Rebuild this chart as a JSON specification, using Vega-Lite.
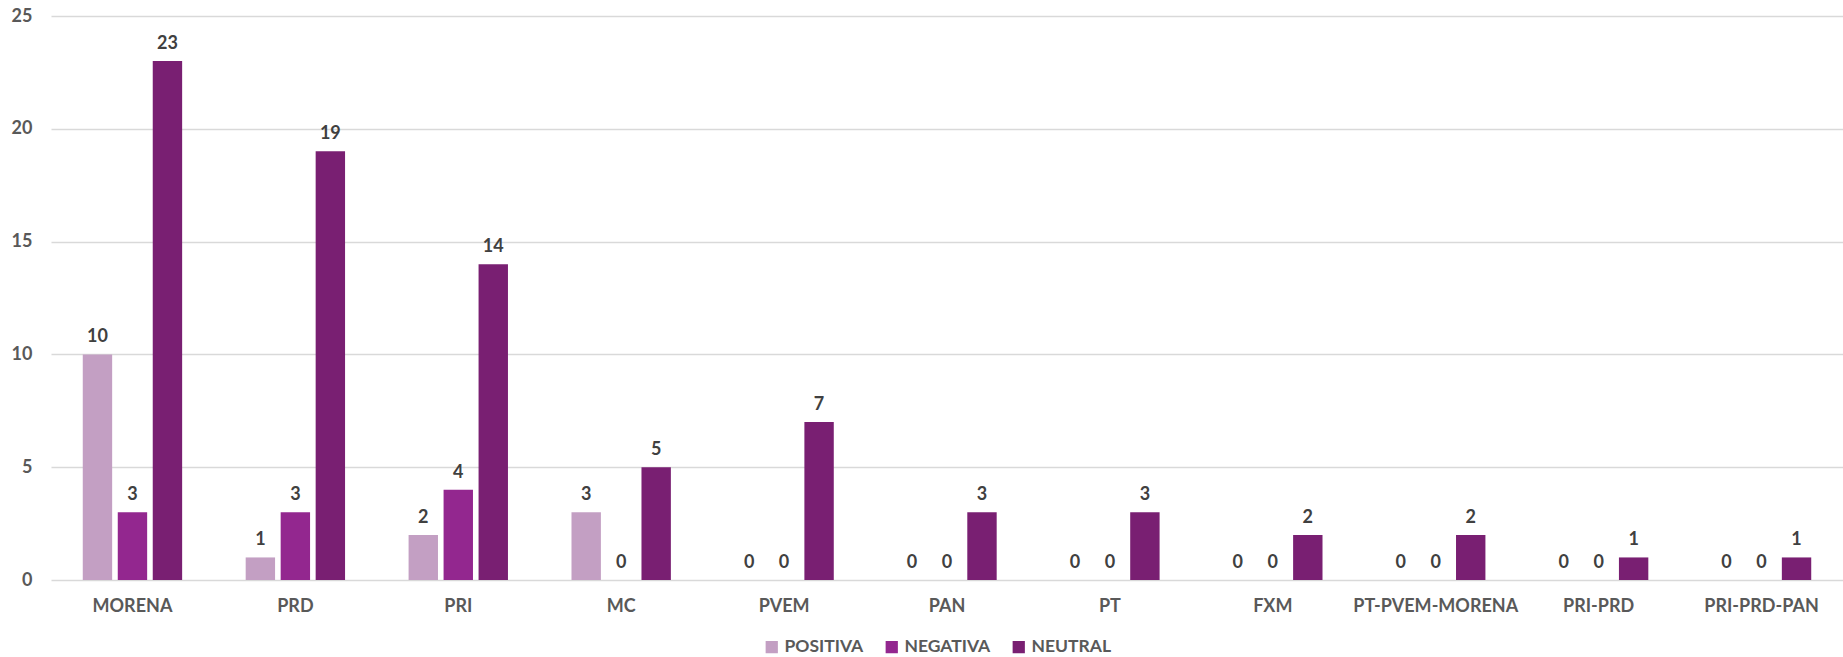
{
  "$schema": "https://vega.github.io/schema/vega-lite/v6.json",
  "width": 1792,
  "height": 564,
  "autosize": "none",
  "padding": {"left": 51, "top": 16, "right": 0, "bottom": 77},
  "background": "white",
  "config": {
    "view": {"stroke": null},
    "font": "Lato"
  },
  "data": {
    "values": [
      {"partido": "MORENA", "tipo": "POSITIVA", "valor": 10},
      {"partido": "MORENA", "tipo": "NEGATIVA", "valor": 3},
      {"partido": "MORENA", "tipo": "NEUTRAL", "valor": 23},
      {"partido": "PRD", "tipo": "POSITIVA", "valor": 1},
      {"partido": "PRD", "tipo": "NEGATIVA", "valor": 3},
      {"partido": "PRD", "tipo": "NEUTRAL", "valor": 19},
      {"partido": "PRI", "tipo": "POSITIVA", "valor": 2},
      {"partido": "PRI", "tipo": "NEGATIVA", "valor": 4},
      {"partido": "PRI", "tipo": "NEUTRAL", "valor": 14},
      {"partido": "MC", "tipo": "POSITIVA", "valor": 3},
      {"partido": "MC", "tipo": "NEGATIVA", "valor": 0},
      {"partido": "MC", "tipo": "NEUTRAL", "valor": 5},
      {"partido": "PVEM", "tipo": "POSITIVA", "valor": 0},
      {"partido": "PVEM", "tipo": "NEGATIVA", "valor": 0},
      {"partido": "PVEM", "tipo": "NEUTRAL", "valor": 7},
      {"partido": "PAN", "tipo": "POSITIVA", "valor": 0},
      {"partido": "PAN", "tipo": "NEGATIVA", "valor": 0},
      {"partido": "PAN", "tipo": "NEUTRAL", "valor": 3},
      {"partido": "PT", "tipo": "POSITIVA", "valor": 0},
      {"partido": "PT", "tipo": "NEGATIVA", "valor": 0},
      {"partido": "PT", "tipo": "NEUTRAL", "valor": 3},
      {"partido": "FXM", "tipo": "POSITIVA", "valor": 0},
      {"partido": "FXM", "tipo": "NEGATIVA", "valor": 0},
      {"partido": "FXM", "tipo": "NEUTRAL", "valor": 2},
      {"partido": "PT-PVEM-MORENA", "tipo": "POSITIVA", "valor": 0},
      {"partido": "PT-PVEM-MORENA", "tipo": "NEGATIVA", "valor": 0},
      {"partido": "PT-PVEM-MORENA", "tipo": "NEUTRAL", "valor": 2},
      {"partido": "PRI-PRD", "tipo": "POSITIVA", "valor": 0},
      {"partido": "PRI-PRD", "tipo": "NEGATIVA", "valor": 0},
      {"partido": "PRI-PRD", "tipo": "NEUTRAL", "valor": 1},
      {"partido": "PRI-PRD-PAN", "tipo": "POSITIVA", "valor": 0},
      {"partido": "PRI-PRD-PAN", "tipo": "NEGATIVA", "valor": 0},
      {"partido": "PRI-PRD-PAN", "tipo": "NEUTRAL", "valor": 1}
    ]
  },
  "encoding": {
    "x": {
      "field": "partido",
      "type": "nominal",
      "sort": null,
      "scale": {"paddingInner": 0.39, "paddingOuter": 0.195},
      "axis": {
        "title": null,
        "labelAngle": 0,
        "ticks": false,
        "domain": false,
        "labelPadding": 17,
        "labelFontSize": 18,
        "labelFontWeight": "bold",
        "labelColor": "#595959",
        "grid": false
      }
    },
    "xOffset": {
      "field": "tipo",
      "type": "nominal",
      "sort": ["POSITIVA", "NEGATIVA", "NEUTRAL"],
      "scale": {"paddingInner": 0.16}
    },
    "y": {
      "field": "valor",
      "type": "quantitative",
      "scale": {"domain": [0, 25]},
      "axis": {
        "title": null,
        "values": [0, 5, 10, 15, 20, 25],
        "ticks": false,
        "domain": false,
        "labelPadding": 19,
        "labelFontSize": 18,
        "labelFontWeight": "bold",
        "labelColor": "#595959",
        "gridColor": "#D9D9D9",
        "gridWidth": 1.5
      }
    }
  },
  "layer": [
    {
      "mark": {"type": "bar"},
      "encoding": {
        "color": {
          "field": "tipo",
          "type": "nominal",
          "sort": ["POSITIVA", "NEGATIVA", "NEUTRAL"],
          "scale": {
            "domain": ["POSITIVA", "NEGATIVA", "NEUTRAL"],
            "range": ["#C39FC3", "#93278F", "#791F72"]
          },
          "legend": {
            "title": null,
            "orient": "none",
            "direction": "horizontal",
            "legendX": 712,
            "legendY": 622,
            "symbolType": "square",
            "symbolSize": 150,
            "symbolStrokeWidth": 0,
            "symbolOpacity": 1,
            "labelFontSize": 17.5,
            "labelFontWeight": "bold",
            "labelColor": "#595959",
            "labelOffset": 4,
            "columnPadding": 19
          }
        }
      }
    },
    {
      "mark": {
        "type": "text",
        "baseline": "bottom",
        "dy": -8,
        "fontSize": 18,
        "fontWeight": "bold",
        "color": "#404040"
      },
      "encoding": {
        "text": {"field": "valor", "type": "quantitative"}
      }
    }
  ]
}
